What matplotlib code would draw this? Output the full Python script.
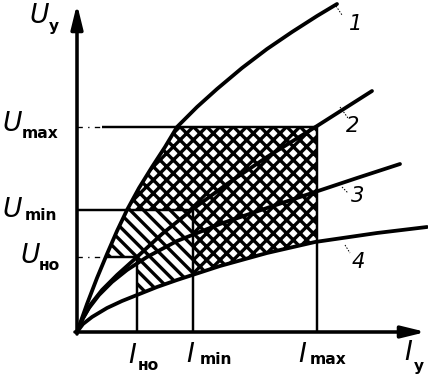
import numpy as np
import matplotlib
matplotlib.use('Agg')
import matplotlib.pyplot as plt

# ---- data (control current I_y vs control voltage U_y, arbitrary units) ----
I_NO, I_MIN, I_MAX = 60, 116, 240
U_NO, U_MIN, U_MAX = 75, 122, 205

c1_i = [0, 10, 20, 30, 40, 50, 62, 75, 88, 100, 120, 140, 165, 190, 215, 240, 260]
c1_u = [0, 28, 54, 78, 101, 122, 144, 165, 185, 205, 225, 243, 264, 283, 300, 316, 328]
c2_i = [0, 6, 14, 25, 40, 60, 85, 116, 150, 190, 240, 295]
c2_u = [0, 14, 28, 42, 57, 75, 98, 123, 148, 175, 206, 241]
c3_i = [0, 5, 12, 22, 35, 50, 70, 100, 143, 190, 238, 280, 323]
c3_u = [0, 12, 24, 37, 50, 62, 75, 91, 108, 124, 140, 154, 168]
c4_i = [0, 6, 15, 30, 45, 60, 80, 100, 143, 190, 238, 300, 350]
c4_u = [0, 8, 15, 24, 31, 37, 45, 52, 66, 79, 90, 99, 105]
curve_names = ['1', '2', '3', '4']

DPI = 80
LW_CURVE = 3.4
LW_REF = 2.2
plt.rcParams['hatch.linewidth'] = 3.0
MAIN = dict(family='DejaVu Sans', style='italic', fontsize=24, ha='center', va='center')
SUB = dict(family='DejaVu Sans', weight='bold', fontsize=14, ha='center', va='center')


def along_u(ci, cu, lo, hi):
    """points of a curve between two voltage levels (curve is monotonic)"""
    ci, cu = np.asarray(ci, float), np.asarray(cu, float)
    m = (cu > lo) & (cu < hi)
    xs = np.r_[np.interp(lo, cu, ci), ci[m], np.interp(hi, cu, ci)]
    ys = np.r_[lo, cu[m], hi]
    return xs, ys


def along_i(ci, cu, lo, hi):
    ci, cu = np.asarray(ci, float), np.asarray(cu, float)
    m = (ci > lo) & (ci < hi)
    xs = np.r_[lo, ci[m], hi]
    ys = np.r_[np.interp(lo, ci, cu), cu[m], np.interp(hi, ci, cu)]
    return xs, ys


fig = plt.figure(figsize=(428 / DPI, 387 / DPI), dpi=DPI)
ax = fig.add_axes([0, 0, 1, 1])
ax.set_xlim(-77, 351)
ax.set_ylim(-55, 332)
ax.axis('off')

# cross-hatched working area
x1, y1 = along_u(c1_i, c1_u, U_MIN, U_MAX)
x4, y4 = along_i(c4_i, c4_u, I_MIN, I_MAX)
px = np.r_[x1, I_MAX, x4[::-1], I_MIN, I_MIN]
py = np.r_[y1, U_MAX, y4[::-1], U_MIN, U_MIN]
ax.fill(px, py, facecolor='white', edgecolor='black', hatch='xx', lw=0, zorder=1)

# single-hatched area
x1, y1 = along_u(c1_i, c1_u, U_NO, U_MIN)
x4, y4 = along_i(c4_i, c4_u, I_NO, I_MIN)
px = np.r_[x1, I_MIN, x4[::-1], I_NO]
py = np.r_[y1, U_MIN, y4[::-1], U_NO]
ax.fill(px, py, facecolor='white', edgecolor='black', hatch='\\\\', lw=0, zorder=1)

# reference levels
k = dict(color='black', lw=LW_REF, zorder=2, solid_capstyle='butt')
dd = dict(color='black', lw=1.2, ls=(0, (4, 4, 1, 4)), zorder=2)
u_no_x = np.interp(U_NO, c1_u, c1_i)
ax.plot([0, 25], [U_MAX, U_MAX], **dd)
ax.plot([25, I_MAX], [U_MAX, U_MAX], **k)
ax.plot([0, I_MIN], [U_MIN, U_MIN], **k)
ax.plot([0, u_no_x], [U_NO, U_NO], **dd)
ax.plot([u_no_x, I_NO], [U_NO, U_NO], **k)
ax.plot([I_NO, I_NO], [0, U_NO], **k)
ax.plot([I_MIN, I_MIN], [0, U_MIN], **k)
ax.plot([I_MAX, I_MAX], [0, U_MAX], **k)

# characteristics 1..4
for ci, cu in [(c1_i, c1_u), (c2_i, c2_u), (c3_i, c3_u), (c4_i, c4_u)]:
    ax.plot(ci, cu, color='black', lw=LW_CURVE, zorder=3, solid_capstyle='round',
            solid_joinstyle='round')

# curve numbers with small leaders
num_pos = [(279, 308), (276, 206), (281, 136), (281, 70)]
lead = [((259, 326), (265, 317)), ((263, 225), (271, 214)),
        ((265, 145), (271, 139)), ((268, 87), (273, 79))]
for name, (tx, ty), (a, b) in zip(curve_names, num_pos, lead):
    ax.text(tx, ty, name, family='DejaVu Sans', style='italic', fontsize=19,
            ha='center', va='center')
    ax.plot([a[0], b[0]], [a[1], b[1]], color='black', lw=0.9, ls=(0, (1.5, 1.5)))

# axes with arrows
arr = dict(arrowstyle='-|>,head_length=0.9,head_width=0.22', lw=3.2, color='black',
           shrinkA=0, shrinkB=0, mutation_scale=20)
ax.annotate('', xy=(0, 328), xytext=(0, -2), arrowprops=arr, zorder=4)
ax.annotate('', xy=(349, 0), xytext=(-2, 0), arrowprops=arr, zorder=4)

# labels
labels = [
    ('U', (-38, 316), 'у', (-23, 306)),
    ('U', (-65, 208), 'max', (-37, 198)),
    ('U', (-65, 122), 'min', (-36, 117)),
    ('U', (-47, 76), 'но', (-28, 67)),
    ('I', (55, -24), 'но', (71, -33)),
    ('I', (113, -23), 'min', (139, -28)),
    ('I', (225, -23), 'max', (251, -27)),
    ('I', (331, -21), 'у', (342, -35)),
]
for main, (mx, my), sub, (sx, sy) in labels:
    ax.text(mx, my, main, **MAIN)
    ax.text(sx, sy, sub, **SUB)

fig.savefig('out.png', dpi=DPI, facecolor='white')
